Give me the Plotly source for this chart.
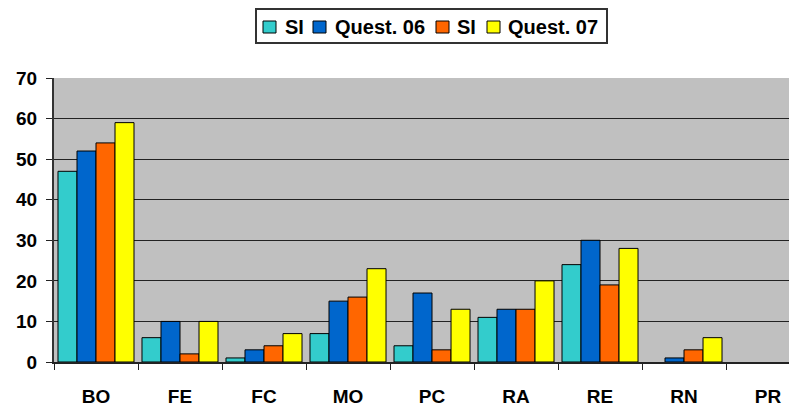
import plotly.graph_objects as go

categories = ["BO", "FE", "FC", "MO", "PC", "RA", "RE", "RN", "PR"]
series_names = ["SI", "Quest. 06", "SI", "Quest. 07"]
si_06 = [47, 6, 1, 7, 4, 11, 24, 0, 0]
quest_06 = [52, 10, 3, 15, 17, 13, 30, 1, 0]
si_07 = [54, 2, 4, 16, 3, 13, 19, 3, 0]
quest_07 = [59, 10, 7, 23, 13, 20, 28, 6, 0]
y_ticks = [0, 10, 20, 30, 40, 50, 60, 70]

colors = ["#33CCCC", "#0066CC", "#FF6600", "#FFFF00"]
series = [si_06, quest_06, si_07, quest_07]

# the page body has an 8px default margin, so the figure starts at (8, 8)
OFF = 8
WIN_W, WIN_H = 797, 409
W, H = WIN_W - OFF, WIN_H - OFF
# plot area in window pixels: x 54..797, y 78..362
PL, PR_, PT, PB = 54, 797, 78, 362
ML, MR, MT, MB = PL - OFF, WIN_W - PR_, PT - OFF, WIN_H - PB
PW = PR_ - PL
PH = PB - PT


def px_x(px):
    return (px - PL) / PW


def px_y(py):
    return (PB - py) / PH


fig = go.Figure()
for name, vals, col in zip(series_names, series, colors):
    fig.add_trace(go.Bar(
        x=categories, y=vals, name=name,
        marker=dict(color=col,
                    line=dict(color="#000000", width=[0 if v == 0 else 1 for v in vals])),
        showlegend=False,
    ))

font_family = "Liberation Sans, Arial, sans-serif"

# custom legend (box, swatches, labels)
shapes = [dict(type="rect", xref="paper", yref="paper",
               x0=px_x(256), x1=px_x(607), y0=px_y(9), y1=px_y(43),
               line=dict(color="#333333", width=2), fillcolor="white", layer="above")]
annotations = []
sw_x = [263, 313, 436, 487]
tx_x = [283, 333, 455, 506]
for name, col, sx, tx in zip(series_names, colors, sw_x, tx_x):
    shapes.append(dict(type="rect", xref="paper", yref="paper",
                       x0=px_x(sx), x1=px_x(sx + 13), y0=px_y(21), y1=px_y(33),
                       line=dict(color="#000000", width=1), fillcolor=col, layer="above"))
    annotations.append(dict(xref="paper", yref="paper", x=px_x(tx), y=px_y(27.5),
                            xanchor="left", yanchor="middle", showarrow=False,
                            text=name,
                            font=dict(family=font_family, size=20, color="black", weight="bold")))

fig.update_layout(
    width=W, height=H,
    margin=dict(l=ML, r=MR, t=MT, b=MB, autoexpand=False),
    paper_bgcolor="white",
    plot_bgcolor="#C0C0C0",
    barmode="group",
    bargap=0.095,
    bargroupgap=0,
    showlegend=False,
    shapes=shapes,
    annotations=annotations,
    xaxis=dict(
        type="category",
        range=[-0.5, 8.345],
        automargin=False,
        showgrid=False,
        showline=True, linecolor="#222222", linewidth=2,
        ticks="outside", tickson="boundaries", ticklen=6, tickcolor="#222222",
        tickfont=dict(family=font_family, size=19, color="black", weight="bold"),
        ticklabelstandoff=16,
    ),
    yaxis=dict(
        range=[0, 70],
        tickvals=y_ticks,
        automargin=False,
        showgrid=True, gridcolor="#222222", gridwidth=1,
        showline=True, linecolor="#333333", linewidth=2,
        ticks="outside", ticklen=6, tickcolor="#222222",
        tickfont=dict(family=font_family, size=19, color="black", weight="bold"),
        ticklabelstandoff=5,
        zeroline=False,
    ),
)

fig.write_html("out.html")
